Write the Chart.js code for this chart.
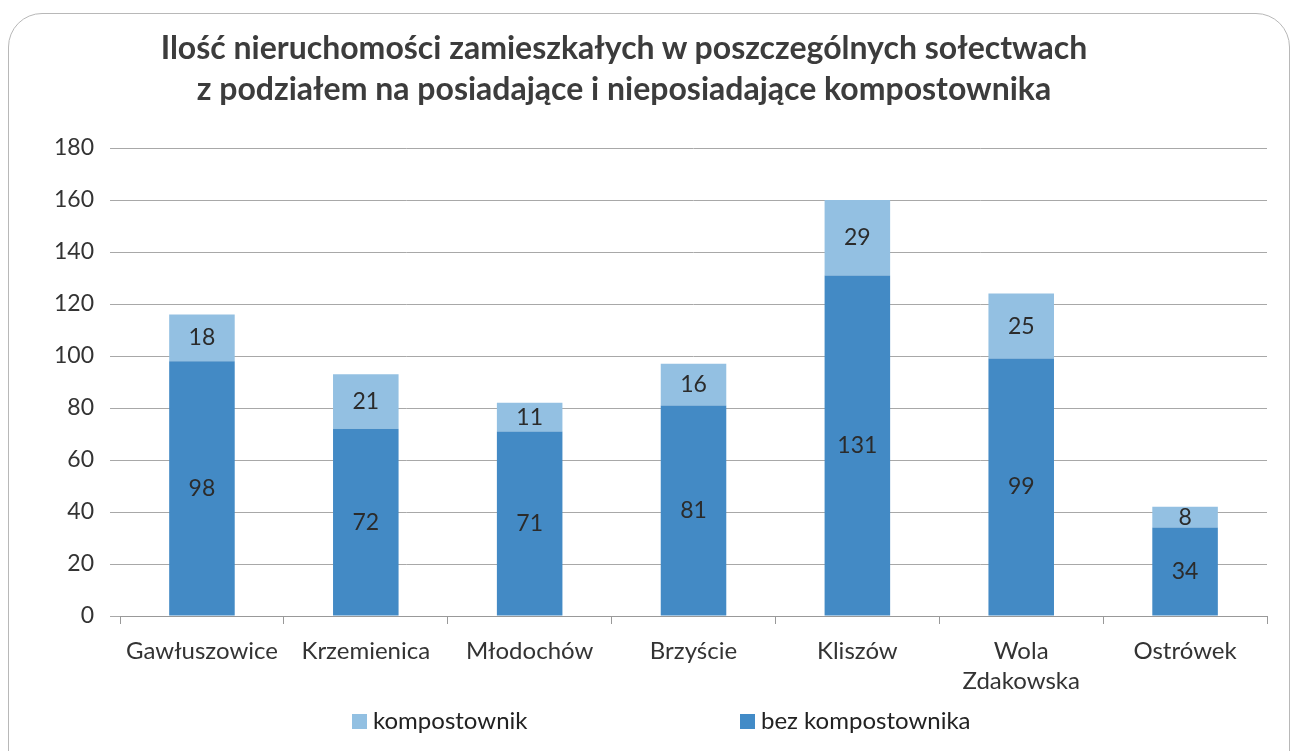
<!DOCTYPE html>
<html>
<head>
<meta charset="utf-8">
<script src="https://cdn.jsdelivr.net/npm/chart.js@4"></script>
<style>
    body { margin: 0; background: #fff; }
    #wrap { position: relative; width: 1295px; height: 751px; overflow: hidden; }
    #frame {
        position: absolute; left: 8px; top: 13px; width: 1282px; height: 780px;
        border: 1px solid #b8b8b8; border-radius: 34px; box-sizing: border-box;
    }
    #chart { position: absolute; left: 0; top: 0; }
    #title {
        position: absolute; left: 0; width: 1248px; top: 26px; text-align: center;
        font: bold 32px Lato, sans-serif; line-height: 41px; color: #3c3c3c;
    }
    .legend { position: absolute; top: 705px; font: 24px Lato, sans-serif; color: #222; line-height: 29px; }
    .legend span { display: inline-block; width: 15px; height: 15px; margin-right: 6px; }
</style>
</head>
<body>
<div id="wrap">
    <div id="frame"></div>
    <canvas id="chart" width="1295" height="751"></canvas>
    <div id="title">Ilość nieruchomości zamieszkałych w poszczególnych sołectwach<br>z podziałem na posiadające i nieposiadające kompostownika</div>
    <div class="legend" style="left:352px"><span style="background:#92c0e2"></span>kompostownik</div>
    <div class="legend" style="left:740px"><span style="background:#428bc7"></span>bez kompostownika</div>
</div>
<script>
// Sample data
const villages = ['Gawłuszowice', 'Krzemienica', 'Młodochów', 'Brzyście', 'Kliszów', ['Wola', 'Zdakowska'], 'Ostrówek'];
const withoutComposter = [98, 72, 71, 81, 131, 99, 34];
const withComposter = [18, 21, 11, 16, 29, 25, 8];
const yTicks = [0, 20, 40, 60, 80, 100, 120, 140, 160, 180];

// Draw the value in the middle of each bar segment
const segmentLabels = {
    id: 'segmentLabels',
    afterDatasetsDraw(chart) {
        const ctx = chart.ctx;
        ctx.save();
        ctx.font = '23px Lato, sans-serif';
        ctx.fillStyle = '#2b2b2b';
        ctx.textAlign = 'center';
        ctx.textBaseline = 'middle';
        chart.data.datasets.forEach((ds, i) => {
            chart.getDatasetMeta(i).data.forEach((bar, j) => {
                const mid = (bar.y + bar.base) / 2;
                ctx.fillText(ds.data[j], bar.x, mid);
            });
        });
        ctx.restore();
    }
};

new Chart(document.getElementById('chart'), {
    type: 'bar',
    data: {
        labels: villages,
        datasets: [
            {
                label: 'bez kompostownika',
                data: withoutComposter,
                backgroundColor: '#438ac5'
            },
            {
                label: 'kompostownik',
                data: withComposter,
                backgroundColor: '#93c0e2'
            }
        ]
    },
    options: {
        responsive: false,
        animation: false,
        layout: { padding: { top: 148, left: 38, right: 28, bottom: 43 } },
        datasets: { bar: { barPercentage: 0.4, categoryPercentage: 1 } },
        plugins: {
            legend: { display: false },
            tooltip: { enabled: false }
        },
        scales: {
            x: {
                stacked: true,
                grid: { drawOnChartArea: false, color: '#999', tickLength: 8 },
                border: { color: '#999' },
                ticks: { color: '#333', font: { family: 'Lato, sans-serif', size: 24, lineHeight: 1.25 }, padding: 12 }
            },
            y: {
                stacked: true,
                min: 0,
                max: 180,
                afterBuildTicks: axis => { axis.ticks = yTicks.map(v => ({ value: v })); },
                grid: { color: '#a8a8a8', tickLength: 10 },
                border: { display: false },
                ticks: { color: '#333', font: { family: 'Lato, sans-serif', size: 23 }, padding: 16 }
            }
        }
    },
    plugins: [segmentLabels]
});
</script>
</body>
</html>
